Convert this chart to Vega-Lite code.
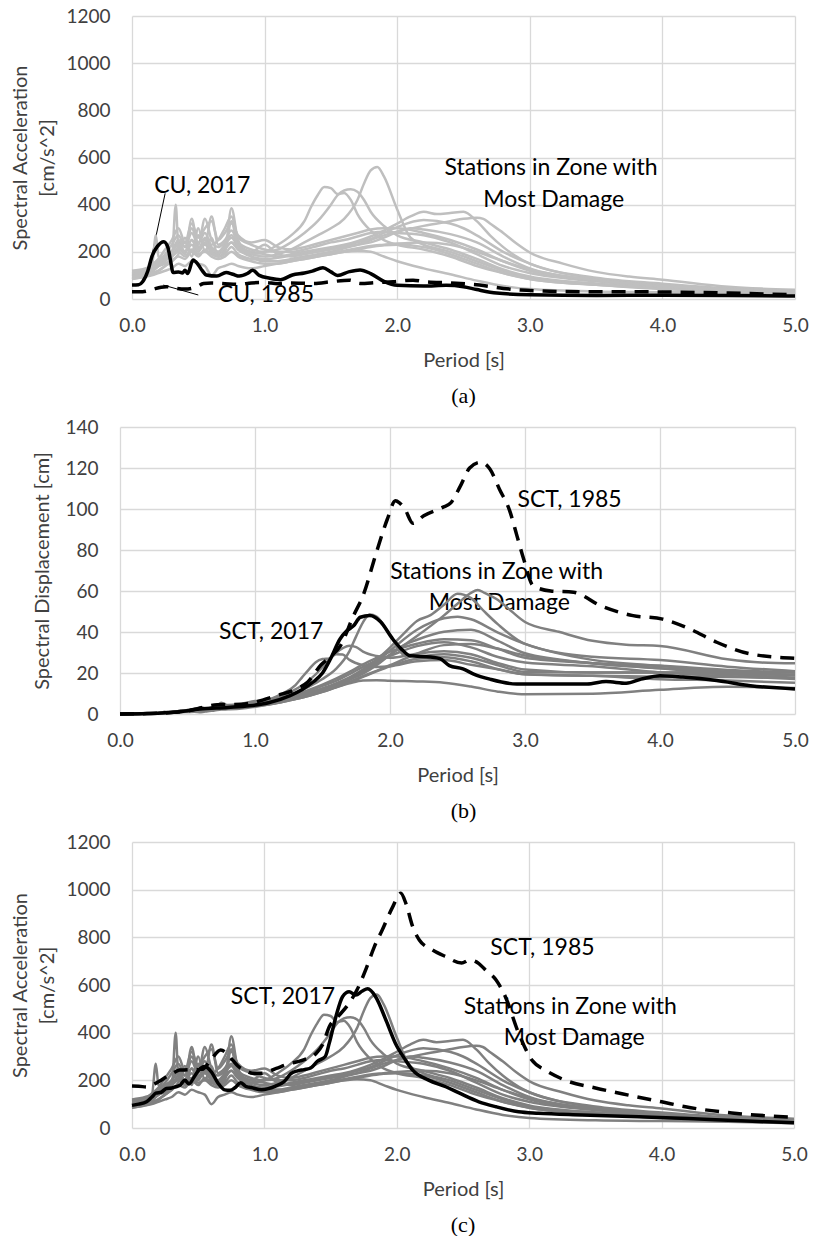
{
"$schema": "https://vega.github.io/schema/vega-lite/v6.json",
"background": "white",
"padding": {"left": 10, "top": 7, "right": 0, "bottom": 0},
"bounds": "flush",
"spacing": 128,
"datasets": {
"st": [
{"s":"A","T":0,"a":110,"d":0},{"s":"A","T":0.1,"a":120,"d":0.03},{"s":"A","T":0.15,"a":140,"d":0.08},{"s":"A","T":0.2,"a":160,"d":0.16},{"s":"A","T":0.25,"a":180,"d":0.28},{"s":"A","T":0.3,"a":200,"d":0.46},{"s":"A","T":0.35,"a":240,"d":0.74},{"s":"A","T":0.4,"a":200,"d":0.81},{"s":"A","T":0.45,"a":250,"d":1.28},{"s":"A","T":0.5,"a":210,"d":1.33},{"s":"A","T":0.55,"a":260,"d":1.99},{"s":"A","T":0.6,"a":220,"d":2.0},{"s":"A","T":0.65,"a":200,"d":2.14},{"s":"A","T":0.7,"a":230,"d":2.85},{"s":"A","T":0.75,"a":260,"d":3.7},{"s":"A","T":0.8,"a":220,"d":3.56},{"s":"A","T":0.9,"a":190,"d":3.9},{"s":"A","T":1.0,"a":180,"d":4.56},{"s":"A","T":1.1,"a":190,"d":5.8},{"s":"A","T":1.2,"a":210,"d":7.7},{"s":"A","T":1.3,"a":240,"d":10.3},{"s":"A","T":1.4,"a":270,"d":13.4},{"s":"A","T":1.5,"a":300,"d":17.1},{"s":"A","T":1.6,"a":340,"d":22},{"s":"A","T":1.7,"a":420,"d":30.7},{"s":"A","T":1.75,"a":490,"d":38},{"s":"A","T":1.8,"a":545,"d":44.7},{"s":"A","T":1.85,"a":560,"d":48.5},{"s":"A","T":1.9,"a":520,"d":47.5},{"s":"A","T":2.0,"a":380,"d":38.5},{"s":"A","T":2.1,"a":260,"d":29},{"s":"A","T":2.2,"a":230,"d":28.2},{"s":"A","T":2.4,"a":200,"d":29.2},{"s":"A","T":2.6,"a":160,"d":27.4},{"s":"A","T":2.8,"a":120,"d":23.8},{"s":"A","T":3.0,"a":90,"d":20.5},{"s":"A","T":3.5,"a":65,"d":20.2},{"s":"A","T":4.0,"a":50,"d":20.3},{"s":"A","T":4.5,"a":38,"d":19.5},{"s":"A","T":5.0,"a":30,"d":19},
{"s":"B","T":0,"a":100,"d":0},{"s":"B","T":0.1,"a":110,"d":0.03},{"s":"B","T":0.15,"a":125,"d":0.07},{"s":"B","T":0.2,"a":150,"d":0.15},{"s":"B","T":0.25,"a":170,"d":0.27},{"s":"B","T":0.3,"a":180,"d":0.41},{"s":"B","T":0.35,"a":220,"d":0.68},{"s":"B","T":0.4,"a":190,"d":0.77},{"s":"B","T":0.45,"a":340,"d":1.74},{"s":"B","T":0.5,"a":220,"d":1.39},{"s":"B","T":0.55,"a":230,"d":1.76},{"s":"B","T":0.6,"a":200,"d":1.82},{"s":"B","T":0.65,"a":190,"d":2.03},{"s":"B","T":0.7,"a":210,"d":2.6},{"s":"B","T":0.75,"a":240,"d":3.42},{"s":"B","T":0.8,"a":210,"d":3.4},{"s":"B","T":0.9,"a":190,"d":3.9},{"s":"B","T":1.0,"a":200,"d":5.07},{"s":"B","T":1.1,"a":230,"d":7.05},{"s":"B","T":1.2,"a":270,"d":9.85},{"s":"B","T":1.3,"a":330,"d":14.1},{"s":"B","T":1.35,"a":390,"d":18},{"s":"B","T":1.4,"a":440,"d":21.8},{"s":"B","T":1.45,"a":475,"d":25.3},{"s":"B","T":1.5,"a":470,"d":26.8},{"s":"B","T":1.55,"a":445,"d":27.1},{"s":"B","T":1.6,"a":450,"d":29.2},{"s":"B","T":1.65,"a":420,"d":29},{"s":"B","T":1.7,"a":360,"d":26.4},{"s":"B","T":1.8,"a":290,"d":23.8},{"s":"B","T":1.9,"a":250,"d":22.9},{"s":"B","T":2.0,"a":230,"d":23.3},{"s":"B","T":2.2,"a":210,"d":25.7},{"s":"B","T":2.4,"a":180,"d":26.3},{"s":"B","T":2.6,"a":140,"d":24},{"s":"B","T":2.8,"a":110,"d":21.8},{"s":"B","T":3.0,"a":85,"d":19.4},{"s":"B","T":3.5,"a":60,"d":18.6},{"s":"B","T":4.0,"a":45,"d":18.2},{"s":"B","T":4.5,"a":35,"d":18},{"s":"B","T":5.0,"a":28,"d":17.7},
{"s":"C","T":0,"a":95,"d":0},{"s":"C","T":0.1,"a":105,"d":0.03},{"s":"C","T":0.15,"a":115,"d":0.07},{"s":"C","T":0.2,"a":140,"d":0.14},{"s":"C","T":0.25,"a":160,"d":0.25},{"s":"C","T":0.3,"a":190,"d":0.43},{"s":"C","T":0.35,"a":210,"d":0.65},{"s":"C","T":0.4,"a":240,"d":0.97},{"s":"C","T":0.45,"a":200,"d":1.03},{"s":"C","T":0.5,"a":270,"d":1.71},{"s":"C","T":0.55,"a":230,"d":1.76},{"s":"C","T":0.6,"a":350,"d":3.19},{"s":"C","T":0.65,"a":230,"d":2.46},{"s":"C","T":0.7,"a":250,"d":3.1},{"s":"C","T":0.75,"a":290,"d":4.13},{"s":"C","T":0.8,"a":240,"d":3.89},{"s":"C","T":0.9,"a":210,"d":4.3},{"s":"C","T":1.0,"a":200,"d":5.07},{"s":"C","T":1.1,"a":210,"d":6.4},{"s":"C","T":1.2,"a":240,"d":8.75},{"s":"C","T":1.3,"a":280,"d":12},{"s":"C","T":1.4,"a":330,"d":16.4},{"s":"C","T":1.5,"a":400,"d":22.8},{"s":"C","T":1.55,"a":440,"d":26.8},{"s":"C","T":1.6,"a":460,"d":29.8},{"s":"C","T":1.65,"a":465,"d":32.1},{"s":"C","T":1.7,"a":455,"d":33.3},{"s":"C","T":1.75,"a":420,"d":32.6},{"s":"C","T":1.8,"a":370,"d":30.4},{"s":"C","T":1.9,"a":310,"d":28.3},{"s":"C","T":2.0,"a":270,"d":27.4},{"s":"C","T":2.2,"a":240,"d":29.4},{"s":"C","T":2.4,"a":210,"d":30.6},{"s":"C","T":2.6,"a":170,"d":29.1},{"s":"C","T":2.8,"a":125,"d":24.8},{"s":"C","T":3.0,"a":95,"d":21.7},{"s":"C","T":3.5,"a":65,"d":20.2},{"s":"C","T":4.0,"a":50,"d":20.3},{"s":"C","T":4.5,"a":40,"d":20.5},{"s":"C","T":5.0,"a":32,"d":20.3},
{"s":"D","T":0,"a":90,"d":0},{"s":"D","T":0.1,"a":100,"d":0.03},{"s":"D","T":0.15,"a":110,"d":0.06},{"s":"D","T":0.2,"a":120,"d":0.12},{"s":"D","T":0.25,"a":140,"d":0.22},{"s":"D","T":0.3,"a":160,"d":0.36},{"s":"D","T":0.35,"a":180,"d":0.56},{"s":"D","T":0.4,"a":170,"d":0.69},{"s":"D","T":0.45,"a":200,"d":1.03},{"s":"D","T":0.5,"a":180,"d":1.14},{"s":"D","T":0.55,"a":210,"d":1.61},{"s":"D","T":0.6,"a":190,"d":1.73},{"s":"D","T":0.65,"a":180,"d":1.93},{"s":"D","T":0.7,"a":200,"d":2.48},{"s":"D","T":0.75,"a":385,"d":5.49},{"s":"D","T":0.8,"a":250,"d":4.05},{"s":"D","T":0.9,"a":180,"d":3.69},{"s":"D","T":1.0,"a":160,"d":4.05},{"s":"D","T":1.1,"a":160,"d":4.9},{"s":"D","T":1.2,"a":170,"d":6.2},{"s":"D","T":1.3,"a":180,"d":7.7},{"s":"D","T":1.4,"a":190,"d":9.4},{"s":"D","T":1.5,"a":200,"d":11.4},{"s":"D","T":1.6,"a":215,"d":13.9},{"s":"D","T":1.7,"a":230,"d":16.8},{"s":"D","T":1.8,"a":250,"d":20.5},{"s":"D","T":1.9,"a":270,"d":24.7},{"s":"D","T":2.0,"a":285,"d":28.9},{"s":"D","T":2.2,"a":310,"d":38},{"s":"D","T":2.4,"a":330,"d":48.1},{"s":"D","T":2.5,"a":340,"d":53.8},{"s":"D","T":2.6,"a":345,"d":59.1},{"s":"D","T":2.65,"a":340,"d":60.5},{"s":"D","T":2.7,"a":320,"d":59.1},{"s":"D","T":2.8,"a":280,"d":55.6},{"s":"D","T":2.9,"a":235,"d":50.1},{"s":"D","T":3.0,"a":197,"d":44.9},{"s":"D","T":3.25,"a":150,"d":40.1},{"s":"D","T":3.5,"a":115,"d":35.7},{"s":"D","T":3.75,"a":95,"d":33.8},{"s":"D","T":4.0,"a":82,"d":33.2},{"s":"D","T":4.5,"a":52,"d":26.7},{"s":"D","T":4.75,"a":44,"d":25.1},{"s":"D","T":5.0,"a":39,"d":24.7},
{"s":"E","T":0,"a":120,"d":0},{"s":"E","T":0.1,"a":130,"d":0.03},{"s":"E","T":0.15,"a":140,"d":0.08},{"s":"E","T":0.18,"a":270,"d":0.22},{"s":"E","T":0.2,"a":180,"d":0.18},{"s":"E","T":0.25,"a":170,"d":0.27},{"s":"E","T":0.3,"a":200,"d":0.46},{"s":"E","T":0.35,"a":250,"d":0.78},{"s":"E","T":0.4,"a":220,"d":0.89},{"s":"E","T":0.45,"a":280,"d":1.44},{"s":"E","T":0.5,"a":230,"d":1.46},{"s":"E","T":0.55,"a":340,"d":2.6},{"s":"E","T":0.6,"a":250,"d":2.28},{"s":"E","T":0.65,"a":220,"d":2.35},{"s":"E","T":0.7,"a":240,"d":2.98},{"s":"E","T":0.75,"a":270,"d":3.85},{"s":"E","T":0.8,"a":230,"d":3.73},{"s":"E","T":0.9,"a":200,"d":4.1},{"s":"E","T":1.0,"a":190,"d":4.81},{"s":"E","T":1.1,"a":180,"d":5.5},{"s":"E","T":1.2,"a":190,"d":6.9},{"s":"E","T":1.3,"a":200,"d":8.6},{"s":"E","T":1.4,"a":210,"d":10.4},{"s":"E","T":1.5,"a":220,"d":12.5},{"s":"E","T":1.6,"a":230,"d":14.9},{"s":"E","T":1.7,"a":245,"d":17.9},{"s":"E","T":1.8,"a":265,"d":21.8},{"s":"E","T":1.9,"a":290,"d":26.5},{"s":"E","T":2.0,"a":320,"d":32.4},{"s":"E","T":2.1,"a":350,"d":39.1},{"s":"E","T":2.2,"a":370,"d":45.4},{"s":"E","T":2.3,"a":360,"d":48.2},{"s":"E","T":2.4,"a":365,"d":53.3},{"s":"E","T":2.5,"a":370,"d":58.6},{"s":"E","T":2.6,"a":330,"d":56.5},{"s":"E","T":2.7,"a":270,"d":49.9},{"s":"E","T":2.8,"a":220,"d":43.7},{"s":"E","T":3.0,"a":150,"d":34.2},{"s":"E","T":3.5,"a":90,"d":27.9},{"s":"E","T":4.0,"a":65,"d":26.3},{"s":"E","T":4.5,"a":45,"d":23.1},{"s":"E","T":5.0,"a":33,"d":20.9},
{"s":"F","T":0,"a":105,"d":0},{"s":"F","T":0.1,"a":115,"d":0.03},{"s":"F","T":0.15,"a":125,"d":0.07},{"s":"F","T":0.2,"a":140,"d":0.14},{"s":"F","T":0.25,"a":150,"d":0.24},{"s":"F","T":0.3,"a":170,"d":0.39},{"s":"F","T":0.33,"a":400,"d":1.1},{"s":"F","T":0.35,"a":220,"d":0.68},{"s":"F","T":0.4,"a":200,"d":0.81},{"s":"F","T":0.45,"a":230,"d":1.18},{"s":"F","T":0.5,"a":200,"d":1.27},{"s":"F","T":0.55,"a":240,"d":1.84},{"s":"F","T":0.6,"a":210,"d":1.92},{"s":"F","T":0.65,"a":200,"d":2.14},{"s":"F","T":0.7,"a":220,"d":2.73},{"s":"F","T":0.75,"a":240,"d":3.42},{"s":"F","T":0.8,"a":210,"d":3.4},{"s":"F","T":0.9,"a":180,"d":3.69},{"s":"F","T":1.0,"a":170,"d":4.31},{"s":"F","T":1.1,"a":175,"d":5.4},{"s":"F","T":1.2,"a":185,"d":6.7},{"s":"F","T":1.3,"a":195,"d":8.3},{"s":"F","T":1.4,"a":205,"d":10.2},{"s":"F","T":1.5,"a":215,"d":12.3},{"s":"F","T":1.6,"a":225,"d":14.6},{"s":"F","T":1.7,"a":240,"d":17.6},{"s":"F","T":1.8,"a":255,"d":20.9},{"s":"F","T":1.9,"a":280,"d":25.6},{"s":"F","T":2.0,"a":305,"d":30.9},{"s":"F","T":2.2,"a":335,"d":41.1},{"s":"F","T":2.4,"a":320,"d":46.7},{"s":"F","T":2.5,"a":300,"d":47.5},{"s":"F","T":2.6,"a":270,"d":46.2},{"s":"F","T":2.8,"a":200,"d":39.7},{"s":"F","T":3.0,"a":150,"d":34.2},{"s":"F","T":3.5,"a":85,"d":26.4},{"s":"F","T":4.0,"a":58,"d":23.5},{"s":"F","T":4.5,"a":40,"d":20.5},{"s":"F","T":5.0,"a":30,"d":19},
{"s":"G","T":0,"a":85,"d":0},{"s":"G","T":0.1,"a":95,"d":0.02},{"s":"G","T":0.15,"a":105,"d":0.06},{"s":"G","T":0.2,"a":120,"d":0.12},{"s":"G","T":0.25,"a":140,"d":0.22},{"s":"G","T":0.3,"a":160,"d":0.36},{"s":"G","T":0.35,"a":190,"d":0.59},{"s":"G","T":0.4,"a":260,"d":1.05},{"s":"G","T":0.45,"a":180,"d":0.92},{"s":"G","T":0.5,"a":300,"d":1.9},{"s":"G","T":0.55,"a":200,"d":1.53},{"s":"G","T":0.6,"a":260,"d":2.37},{"s":"G","T":0.65,"a":180,"d":1.93},{"s":"G","T":0.7,"a":200,"d":2.48},{"s":"G","T":0.75,"a":330,"d":4.7},{"s":"G","T":0.8,"a":220,"d":3.56},{"s":"G","T":0.9,"a":200,"d":4.1},{"s":"G","T":1.0,"a":230,"d":5.83},{"s":"G","T":1.1,"a":190,"d":5.82},{"s":"G","T":1.2,"a":180,"d":6.6},{"s":"G","T":1.3,"a":190,"d":8.1},{"s":"G","T":1.4,"a":200,"d":9.9},{"s":"G","T":1.5,"a":210,"d":12},{"s":"G","T":1.6,"a":220,"d":14.3},{"s":"G","T":1.7,"a":230,"d":16.8},{"s":"G","T":1.8,"a":240,"d":19.7},{"s":"G","T":1.9,"a":260,"d":23.8},{"s":"G","T":2.0,"a":285,"d":28.9},{"s":"G","T":2.1,"a":300,"d":33.5},{"s":"G","T":2.2,"a":295,"d":36.2},{"s":"G","T":2.4,"a":275,"d":40.1},{"s":"G","T":2.6,"a":240,"d":41.1},{"s":"G","T":2.8,"a":180,"d":35.7},{"s":"G","T":3.0,"a":130,"d":29.6},{"s":"G","T":3.5,"a":80,"d":24.8},{"s":"G","T":4.0,"a":55,"d":22.3},{"s":"G","T":4.5,"a":38,"d":19.5},{"s":"G","T":5.0,"a":28,"d":17.7},
{"s":"H","T":0,"a":100,"d":0},{"s":"H","T":0.1,"a":110,"d":0.03},{"s":"H","T":0.15,"a":130,"d":0.07},{"s":"H","T":0.2,"a":160,"d":0.16},{"s":"H","T":0.25,"a":190,"d":0.3},{"s":"H","T":0.3,"a":230,"d":0.52},{"s":"H","T":0.35,"a":270,"d":0.84},{"s":"H","T":0.4,"a":220,"d":0.89},{"s":"H","T":0.45,"a":300,"d":1.54},{"s":"H","T":0.5,"a":240,"d":1.52},{"s":"H","T":0.55,"a":280,"d":2.14},{"s":"H","T":0.6,"a":230,"d":2.1},{"s":"H","T":0.65,"a":250,"d":2.68},{"s":"H","T":0.7,"a":300,"d":3.72},{"s":"H","T":0.75,"a":350,"d":4.99},{"s":"H","T":0.8,"a":260,"d":4.21},{"s":"H","T":0.9,"a":230,"d":4.72},{"s":"H","T":1.0,"a":210,"d":5.32},{"s":"H","T":1.1,"a":200,"d":6.1},{"s":"H","T":1.2,"a":200,"d":7.3},{"s":"H","T":1.3,"a":210,"d":9},{"s":"H","T":1.4,"a":225,"d":11.2},{"s":"H","T":1.5,"a":240,"d":13.7},{"s":"H","T":1.6,"a":250,"d":16.2},{"s":"H","T":1.7,"a":265,"d":19.4},{"s":"H","T":1.8,"a":280,"d":23},{"s":"H","T":1.9,"a":285,"d":26},{"s":"H","T":2.0,"a":280,"d":28.4},{"s":"H","T":2.2,"a":270,"d":33.1},{"s":"H","T":2.4,"a":240,"d":35},{"s":"H","T":2.6,"a":190,"d":32.5},{"s":"H","T":2.8,"a":140,"d":27.8},{"s":"H","T":3.0,"a":110,"d":25.1},{"s":"H","T":3.5,"a":75,"d":23.3},{"s":"H","T":4.0,"a":50,"d":20.3},{"s":"H","T":4.5,"a":36,"d":18.5},{"s":"H","T":5.0,"a":27,"d":17.1},
{"s":"I","T":0,"a":110,"d":0},{"s":"I","T":0.1,"a":120,"d":0.03},{"s":"I","T":0.15,"a":135,"d":0.08},{"s":"I","T":0.2,"a":150,"d":0.15},{"s":"I","T":0.25,"a":170,"d":0.27},{"s":"I","T":0.3,"a":180,"d":0.41},{"s":"I","T":0.35,"a":200,"d":0.62},{"s":"I","T":0.4,"a":180,"d":0.73},{"s":"I","T":0.45,"a":210,"d":1.08},{"s":"I","T":0.5,"a":190,"d":1.2},{"s":"I","T":0.55,"a":200,"d":1.53},{"s":"I","T":0.6,"a":180,"d":1.64},{"s":"I","T":0.65,"a":170,"d":1.82},{"s":"I","T":0.7,"a":180,"d":2.23},{"s":"I","T":0.75,"a":200,"d":2.85},{"s":"I","T":0.8,"a":180,"d":2.92},{"s":"I","T":0.9,"a":160,"d":3.28},{"s":"I","T":1.0,"a":150,"d":3.8},{"s":"I","T":1.1,"a":150,"d":4.6},{"s":"I","T":1.2,"a":160,"d":5.8},{"s":"I","T":1.3,"a":170,"d":7.3},{"s":"I","T":1.4,"a":180,"d":8.9},{"s":"I","T":1.5,"a":190,"d":10.8},{"s":"I","T":1.6,"a":200,"d":13},{"s":"I","T":1.7,"a":210,"d":15.4},{"s":"I","T":1.8,"a":220,"d":18.1},{"s":"I","T":1.9,"a":228,"d":20.8},{"s":"I","T":2.0,"a":230,"d":23.3},{"s":"I","T":2.2,"a":220,"d":27},{"s":"I","T":2.4,"a":190,"d":27.7},{"s":"I","T":2.6,"a":150,"d":25.7},{"s":"I","T":2.8,"a":110,"d":21.8},{"s":"I","T":3.0,"a":85,"d":19.4},{"s":"I","T":3.5,"a":60,"d":18.6},{"s":"I","T":4.0,"a":42,"d":17},{"s":"I","T":4.5,"a":32,"d":16.4},{"s":"I","T":5.0,"a":24,"d":15.2},
{"s":"J","T":0,"a":85,"d":0},{"s":"J","T":0.1,"a":95,"d":0.02},{"s":"J","T":0.15,"a":100,"d":0.06},{"s":"J","T":0.2,"a":110,"d":0.11},{"s":"J","T":0.25,"a":120,"d":0.19},{"s":"J","T":0.3,"a":130,"d":0.3},{"s":"J","T":0.35,"a":150,"d":0.47},{"s":"J","T":0.4,"a":140,"d":0.57},{"s":"J","T":0.45,"a":160,"d":0.82},{"s":"J","T":0.5,"a":150,"d":0.95},{"s":"J","T":0.55,"a":140,"d":1.07},{"s":"J","T":0.6,"a":100,"d":0.91},{"s":"J","T":0.65,"a":130,"d":1.39},{"s":"J","T":0.7,"a":140,"d":1.74},{"s":"J","T":0.75,"a":150,"d":2.14},{"s":"J","T":0.8,"a":140,"d":2.27},{"s":"J","T":0.9,"a":130,"d":2.67},{"s":"J","T":1.0,"a":140,"d":3.55},{"s":"J","T":1.1,"a":150,"d":4.6},{"s":"J","T":1.2,"a":160,"d":5.8},{"s":"J","T":1.3,"a":170,"d":7.3},{"s":"J","T":1.4,"a":180,"d":8.9},{"s":"J","T":1.5,"a":190,"d":10.8},{"s":"J","T":1.6,"a":200,"d":13},{"s":"J","T":1.7,"a":205,"d":15},{"s":"J","T":1.8,"a":200,"d":16.4},{"s":"J","T":1.9,"a":180,"d":16.5},{"s":"J","T":2.0,"a":160,"d":16.2},{"s":"J","T":2.2,"a":130,"d":15.9},{"s":"J","T":2.4,"a":105,"d":15.3},{"s":"J","T":2.6,"a":78,"d":13.4},{"s":"J","T":2.8,"a":55,"d":10.9},{"s":"J","T":3.0,"a":42,"d":9.6},{"s":"J","T":3.5,"a":32,"d":9.9},{"s":"J","T":4.0,"a":29,"d":11.8},{"s":"J","T":4.5,"a":26,"d":13.3},{"s":"J","T":5.0,"a":20,"d":12.7},
{"s":"K","T":0,"a":115,"d":0},{"s":"K","T":0.1,"a":125,"d":0.03},{"s":"K","T":0.15,"a":145,"d":0.08},{"s":"K","T":0.2,"a":170,"d":0.17},{"s":"K","T":0.25,"a":210,"d":0.33},{"s":"K","T":0.3,"a":250,"d":0.57},{"s":"K","T":0.35,"a":300,"d":0.93},{"s":"K","T":0.4,"a":240,"d":0.97},{"s":"K","T":0.45,"a":320,"d":1.64},{"s":"K","T":0.5,"a":260,"d":1.65},{"s":"K","T":0.55,"a":300,"d":2.3},{"s":"K","T":0.6,"a":330,"d":3.01},{"s":"K","T":0.65,"a":250,"d":2.68},{"s":"K","T":0.7,"a":280,"d":3.47},{"s":"K","T":0.75,"a":320,"d":4.56},{"s":"K","T":0.8,"a":270,"d":4.37},{"s":"K","T":0.9,"a":240,"d":4.92},{"s":"K","T":1.0,"a":250,"d":6.33},{"s":"K","T":1.1,"a":220,"d":6.7},{"s":"K","T":1.2,"a":210,"d":7.7},{"s":"K","T":1.3,"a":220,"d":9.4},{"s":"K","T":1.4,"a":235,"d":11.7},{"s":"K","T":1.5,"a":250,"d":14.3},{"s":"K","T":1.6,"a":265,"d":17.2},{"s":"K","T":1.7,"a":280,"d":20.5},{"s":"K","T":1.8,"a":295,"d":24.2},{"s":"K","T":1.9,"a":300,"d":27.4},{"s":"K","T":2.0,"a":300,"d":30.4},{"s":"K","T":2.2,"a":280,"d":34.3},{"s":"K","T":2.4,"a":250,"d":36.5},{"s":"K","T":2.6,"a":210,"d":36},{"s":"K","T":2.8,"a":160,"d":31.8},{"s":"K","T":3.0,"a":120,"d":27.4},{"s":"K","T":3.5,"a":80,"d":24.8},{"s":"K","T":4.0,"a":58,"d":23.5},{"s":"K","T":4.5,"a":42,"d":21.5},{"s":"K","T":5.0,"a":32,"d":20.3},
{"s":"L","T":0,"a":95,"d":0},{"s":"L","T":0.1,"a":105,"d":0.03},{"s":"L","T":0.15,"a":120,"d":0.07},{"s":"L","T":0.2,"a":140,"d":0.14},{"s":"L","T":0.25,"a":160,"d":0.25},{"s":"L","T":0.3,"a":200,"d":0.46},{"s":"L","T":0.35,"a":230,"d":0.71},{"s":"L","T":0.4,"a":200,"d":0.81},{"s":"L","T":0.45,"a":250,"d":1.28},{"s":"L","T":0.5,"a":210,"d":1.33},{"s":"L","T":0.55,"a":250,"d":1.92},{"s":"L","T":0.6,"a":200,"d":1.82},{"s":"L","T":0.65,"a":180,"d":1.93},{"s":"L","T":0.7,"a":190,"d":2.36},{"s":"L","T":0.75,"a":220,"d":3.14},{"s":"L","T":0.8,"a":190,"d":3.08},{"s":"L","T":0.9,"a":170,"d":3.49},{"s":"L","T":1.0,"a":165,"d":4.18},{"s":"L","T":1.1,"a":160,"d":4.9},{"s":"L","T":1.2,"a":165,"d":6},{"s":"L","T":1.3,"a":175,"d":7.5},{"s":"L","T":1.4,"a":185,"d":9.2},{"s":"L","T":1.5,"a":195,"d":11.1},{"s":"L","T":1.6,"a":205,"d":13.3},{"s":"L","T":1.7,"a":215,"d":15.7},{"s":"L","T":1.8,"a":225,"d":18.5},{"s":"L","T":1.9,"a":230,"d":21},{"s":"L","T":2.0,"a":235,"d":23.8},{"s":"L","T":2.2,"a":240,"d":29.4},{"s":"L","T":2.4,"a":230,"d":33.6},{"s":"L","T":2.6,"a":200,"d":34.2},{"s":"L","T":2.8,"a":160,"d":31.8},{"s":"L","T":3.0,"a":125,"d":28.5},{"s":"L","T":3.5,"a":80,"d":24.8},{"s":"L","T":4.0,"a":55,"d":22.3},{"s":"L","T":4.5,"a":40,"d":20.5},{"s":"L","T":5.0,"a":30,"d":19}
],
"a17": [{"T":0,"v":59},{"T":0.05,"v":60},{"T":0.08,"v":73},{"T":0.12,"v":120},{"T":0.15,"v":180},{"T":0.19,"v":222},{"T":0.24,"v":243},{"T":0.27,"v":220},{"T":0.29,"v":165},{"T":0.31,"v":112},{"T":0.35,"v":115},{"T":0.38,"v":110},{"T":0.4,"v":122},{"T":0.42,"v":108},{"T":0.46,"v":165},{"T":0.5,"v":145},{"T":0.53,"v":120},{"T":0.56,"v":102},{"T":0.64,"v":97},{"T":0.71,"v":112},{"T":0.76,"v":105},{"T":0.81,"v":97},{"T":0.87,"v":108},{"T":0.91,"v":122},{"T":0.96,"v":100},{"T":1.04,"v":88},{"T":1.12,"v":82},{"T":1.21,"v":102},{"T":1.3,"v":110},{"T":1.36,"v":118},{"T":1.44,"v":132},{"T":1.5,"v":115},{"T":1.55,"v":100},{"T":1.64,"v":116},{"T":1.72,"v":123},{"T":1.8,"v":108},{"T":1.9,"v":75},{"T":2.0,"v":58},{"T":2.2,"v":55},{"T":2.37,"v":58},{"T":2.5,"v":52},{"T":2.6,"v":40},{"T":2.75,"v":25},{"T":3.0,"v":18},{"T":3.5,"v":15},{"T":4.0,"v":16},{"T":4.5,"v":15},{"T":5.0,"v":13}],
"a85": [{"T":0,"v":31},{"T":0.08,"v":31},{"T":0.15,"v":40},{"T":0.22,"v":50},{"T":0.26,"v":52},{"T":0.33,"v":45},{"T":0.4,"v":42},{"T":0.49,"v":52},{"T":0.54,"v":66},{"T":0.6,"v":68},{"T":0.7,"v":65},{"T":0.8,"v":62},{"T":0.9,"v":68},{"T":1.0,"v":70},{"T":1.1,"v":65},{"T":1.2,"v":68},{"T":1.37,"v":66},{"T":1.5,"v":73},{"T":1.64,"v":80},{"T":1.72,"v":66},{"T":1.85,"v":70},{"T":1.97,"v":73},{"T":2.12,"v":80},{"T":2.2,"v":74},{"T":2.4,"v":68},{"T":2.62,"v":59},{"T":2.8,"v":45},{"T":2.93,"v":38},{"T":3.1,"v":34},{"T":3.38,"v":31},{"T":3.7,"v":31},{"T":4.0,"v":30},{"T":4.5,"v":25},{"T":5.0,"v":18}],
"b17": [{"T":0,"v":0},{"T":0.2,"v":0.2},{"T":0.4,"v":0.8},{"T":0.59,"v":2.4},{"T":0.8,"v":3.2},{"T":0.96,"v":4},{"T":1.1,"v":5.5},{"T":1.26,"v":9},{"T":1.35,"v":12},{"T":1.43,"v":15.6},{"T":1.5,"v":20},{"T":1.56,"v":27},{"T":1.63,"v":36.6},{"T":1.68,"v":40.6},{"T":1.73,"v":43},{"T":1.78,"v":47.2},{"T":1.85,"v":48},{"T":1.93,"v":45},{"T":2.02,"v":36.6},{"T":2.08,"v":32},{"T":2.15,"v":28.4},{"T":2.3,"v":27.8},{"T":2.37,"v":27},{"T":2.44,"v":23.6},{"T":2.54,"v":22},{"T":2.62,"v":19.5},{"T":2.74,"v":17},{"T":2.94,"v":14.6},{"T":3.2,"v":14.6},{"T":3.46,"v":14.6},{"T":3.6,"v":15.8},{"T":3.75,"v":15},{"T":3.86,"v":17},{"T":4.0,"v":18.7},{"T":4.17,"v":18},{"T":4.42,"v":16.3},{"T":4.67,"v":13.8},{"T":5.0,"v":12.2}],
"b85": [{"T":0,"v":0},{"T":0.3,"v":0.4},{"T":0.5,"v":1.5},{"T":0.72,"v":4.5},{"T":0.9,"v":4.7},{"T":1.0,"v":5.8},{"T":1.16,"v":9},{"T":1.3,"v":12},{"T":1.39,"v":15.5},{"T":1.49,"v":24},{"T":1.56,"v":28},{"T":1.63,"v":33},{"T":1.73,"v":48},{"T":1.8,"v":57.7},{"T":1.9,"v":79},{"T":1.98,"v":95},{"T":2.04,"v":104},{"T":2.07,"v":103},{"T":2.11,"v":100},{"T":2.17,"v":93},{"T":2.25,"v":96.7},{"T":2.39,"v":100.8},{"T":2.45,"v":103},{"T":2.52,"v":111},{"T":2.59,"v":120},{"T":2.67,"v":122.8},{"T":2.74,"v":119.5},{"T":2.81,"v":109.8},{"T":2.89,"v":98.5},{"T":2.94,"v":87},{"T":2.99,"v":75.6},{"T":3.06,"v":62.6},{"T":3.19,"v":60},{"T":3.36,"v":59.4},{"T":3.56,"v":52.8},{"T":3.8,"v":48},{"T":4.02,"v":46.3},{"T":4.22,"v":41.5},{"T":4.42,"v":35},{"T":4.67,"v":29.3},{"T":5.0,"v":27.2}],
"c17": [{"T":0,"v":95},{"T":0.05,"v":100},{"T":0.11,"v":110},{"T":0.15,"v":130},{"T":0.18,"v":146},{"T":0.22,"v":150},{"T":0.26,"v":166},{"T":0.3,"v":168},{"T":0.33,"v":173},{"T":0.36,"v":178},{"T":0.4,"v":200},{"T":0.43,"v":185},{"T":0.47,"v":215},{"T":0.5,"v":240},{"T":0.55,"v":258},{"T":0.6,"v":235},{"T":0.65,"v":188},{"T":0.7,"v":160},{"T":0.74,"v":158},{"T":0.78,"v":170},{"T":0.82,"v":190},{"T":0.86,"v":175},{"T":0.9,"v":170},{"T":0.98,"v":160},{"T":1.03,"v":165},{"T":1.08,"v":175},{"T":1.15,"v":195},{"T":1.2,"v":228},{"T":1.25,"v":240},{"T":1.3,"v":245},{"T":1.35,"v":252},{"T":1.4,"v":280},{"T":1.46,"v":300},{"T":1.49,"v":356},{"T":1.54,"v":467},{"T":1.59,"v":551},{"T":1.64,"v":572},{"T":1.69,"v":558},{"T":1.74,"v":575},{"T":1.78,"v":584},{"T":1.84,"v":551},{"T":1.92,"v":450},{"T":1.99,"v":355},{"T":2.06,"v":290},{"T":2.12,"v":243},{"T":2.24,"v":201},{"T":2.37,"v":173},{"T":2.47,"v":147},{"T":2.62,"v":110},{"T":2.75,"v":89},{"T":2.92,"v":68},{"T":3.07,"v":62},{"T":3.4,"v":55},{"T":3.83,"v":47},{"T":4.2,"v":40},{"T":4.6,"v":30},{"T":5.0,"v":22}],
"c85": [{"T":0,"v":176},{"T":0.05,"v":175},{"T":0.12,"v":172},{"T":0.17,"v":185},{"T":0.22,"v":200},{"T":0.26,"v":215},{"T":0.31,"v":230},{"T":0.36,"v":243},{"T":0.45,"v":245},{"T":0.53,"v":246},{"T":0.6,"v":290},{"T":0.67,"v":327},{"T":0.72,"v":310},{"T":0.76,"v":285},{"T":0.8,"v":260},{"T":0.86,"v":240},{"T":0.91,"v":230},{"T":0.98,"v":230},{"T":1.09,"v":250},{"T":1.16,"v":265},{"T":1.29,"v":285},{"T":1.39,"v":313},{"T":1.44,"v":350},{"T":1.49,"v":425},{"T":1.56,"v":470},{"T":1.64,"v":524},{"T":1.7,"v":580},{"T":1.77,"v":671},{"T":1.83,"v":760},{"T":1.89,"v":831},{"T":1.97,"v":929},{"T":2.03,"v":985},{"T":2.07,"v":940},{"T":2.12,"v":845},{"T":2.17,"v":789},{"T":2.27,"v":747},{"T":2.37,"v":719},{"T":2.49,"v":692},{"T":2.55,"v":705},{"T":2.62,"v":690},{"T":2.67,"v":663},{"T":2.75,"v":621},{"T":2.82,"v":551},{"T":2.92,"v":398},{"T":3.02,"v":285},{"T":3.12,"v":243},{"T":3.27,"v":201},{"T":3.5,"v":168},{"T":3.75,"v":138},{"T":4.0,"v":110},{"T":4.18,"v":89},{"T":4.53,"v":63},{"T":5.0,"v":45}]
},
"vconcat": [
{
"width": 663, "height": 283,
"title": {"text": "(a)", "orient": "bottom", "offset": 16, "font": "Liberation Serif", "fontSize": 22, "fontWeight": "normal", "color": "#000"},
"encoding": {
 "x": {"field": "T", "type": "quantitative", "scale": {"domain": [0, 5], "nice": false}, "axis": {"values": [0,1,2,3,4,5], "format": ".1f", "title": "Period [s]", "labelPadding": 17, "titlePadding": 15}},
 "y": {"field": "v", "type": "quantitative", "scale": {"domain": [0, 1200], "nice": false}, "axis": {"values": [0,200,400,600,800,1000,1200], "format": "d", "title": ["Spectral Acceleration", "[cm/s^2]"], "titleLineHeight": 27, "labelPadding": 22, "titlePadding": 8}}
},
"layer": [
{"data": {"values": [{"T":0.53,"v":479,"t":"CU, 2017"},{"T":1.01,"v":19,"t":"CU, 1985"},{"T":3.16,"v":555,"t":"Stations in Zone with"},{"T":3.18,"v":420,"t":"Most Damage"}]},
 "mark": {"type": "text", "font": "Lato", "fontSize": 23, "color": "#000"},
 "encoding": {"text": {"field": "t"}}},
{"data": {"values": [{"T":0.25,"v":448,"T2":0.148,"v2":179},{"T":0.236,"v":59,"T2":0.5,"v2":17}]},
 "mark": {"type": "rule", "color": "#000", "strokeWidth": 1},
 "encoding": {"x2": {"field": "T2"}, "y2": {"field": "v2"}}},
{"data": {"name": "st"},
 "mark": {"type": "line", "interpolate": "monotone", "strokeWidth": 2.5, "color": "#bfbfbf"},
 "encoding": {"y": {"field": "a", "type": "quantitative", "scale": {"domain": [0, 1200], "nice": false}, "axis": {"values": [0,200,400,600,800,1000,1200], "format": "d", "title": ["Spectral Acceleration", "[cm/s^2]"], "titleLineHeight": 27, "labelPadding": 22, "titlePadding": 8}}, "detail": {"field": "s"}}},
{"data": {"name": "a85"},
 "mark": {"type": "line", "interpolate": "monotone", "strokeWidth": 3.5, "color": "#000", "strokeDash": [14, 9]},
 "encoding": {}},
{"data": {"name": "a17"},
 "mark": {"type": "line", "interpolate": "monotone", "strokeWidth": 3.5, "color": "#000"},
 "encoding": {}}
]
},
{
"width": 663, "height": 287,
"title": {"text": "(b)", "orient": "bottom", "offset": 16, "font": "Liberation Serif", "fontSize": 22, "fontWeight": "normal", "color": "#000"},
"encoding": {
 "x": {"field": "T", "type": "quantitative", "scale": {"domain": [0, 5], "nice": false, "range": [-12, 663]}, "axis": {"values": [0,1,2,3,4,5], "format": ".1f", "title": "Period [s]", "labelPadding": 17, "titlePadding": 15}},
 "y": {"field": "v", "type": "quantitative", "scale": {"domain": [0, 140], "nice": false}, "axis": {"values": [0,20,40,60,80,100,120,140], "format": "d", "title": "Spectral Displacement [cm]", "labelPadding": 22, "titlePadding": 12, "offset": 12}}
},
"layer": [
{"data": {"values": [{"T":1.12,"v":40,"t":"SCT, 2017"},{"T":3.33,"v":104.4,"t":"SCT, 1985"},{"T":2.79,"v":69.3,"t":"Stations in Zone with"},{"T":2.81,"v":54.1,"t":"Most Damage"}]},
 "mark": {"type": "text", "font": "Lato", "fontSize": 23, "color": "#000"},
 "encoding": {"text": {"field": "t"}}},
{"data": {"name": "st"},
 "mark": {"type": "line", "interpolate": "monotone", "strokeWidth": 2.5, "color": "#808080"},
 "encoding": {"y": {"field": "d", "type": "quantitative", "scale": {"domain": [0, 140], "nice": false}, "axis": {"values": [0,20,40,60,80,100,120,140], "format": "d", "title": "Spectral Displacement [cm]", "labelPadding": 22, "titlePadding": 12, "offset": 12}}, "detail": {"field": "s"}}},
{"data": {"name": "b85"},
 "mark": {"type": "line", "interpolate": "monotone", "strokeWidth": 3.5, "color": "#000", "strokeDash": [14, 9]},
 "encoding": {}},
{"data": {"name": "b17"},
 "mark": {"type": "line", "interpolate": "monotone", "strokeWidth": 3.5, "color": "#000"},
 "encoding": {}}
]
},
{
"width": 662, "height": 286,
"title": {"text": "(c)", "orient": "bottom", "offset": 16, "font": "Liberation Serif", "fontSize": 22, "fontWeight": "normal", "color": "#000"},
"encoding": {
 "x": {"field": "T", "type": "quantitative", "scale": {"domain": [0, 5], "nice": false}, "axis": {"values": [0,1,2,3,4,5], "format": ".1f", "title": "Period [s]", "labelPadding": 17, "titlePadding": 15}},
 "y": {"field": "v", "type": "quantitative", "scale": {"domain": [0, 1200], "nice": false}, "axis": {"values": [0,200,400,600,800,1000,1200], "format": "d", "title": ["Spectral Acceleration", "[cm/s^2]"], "titleLineHeight": 27, "labelPadding": 22, "titlePadding": 8}}
},
"layer": [
{"data": {"values": [{"T":1.14,"v":548,"t":"SCT, 2017"},{"T":3.1,"v":757,"t":"SCT, 1985"},{"T":3.31,"v":509,"t":"Stations in Zone with"},{"T":3.34,"v":378,"t":"Most Damage"}]},
 "mark": {"type": "text", "font": "Lato", "fontSize": 23, "color": "#000"},
 "encoding": {"text": {"field": "t"}}},
{"data": {"name": "st"},
 "mark": {"type": "line", "interpolate": "monotone", "strokeWidth": 2.5, "color": "#808080"},
 "encoding": {"y": {"field": "a", "type": "quantitative", "scale": {"domain": [0, 1200], "nice": false}, "axis": {"values": [0,200,400,600,800,1000,1200], "format": "d", "title": ["Spectral Acceleration", "[cm/s^2]"], "titleLineHeight": 27, "labelPadding": 22, "titlePadding": 8}}, "detail": {"field": "s"}}},
{"data": {"name": "c85"},
 "mark": {"type": "line", "interpolate": "monotone", "strokeWidth": 3.5, "color": "#000", "strokeDash": [14, 9]},
 "encoding": {}},
{"data": {"name": "c17"},
 "mark": {"type": "line", "interpolate": "monotone", "strokeWidth": 3.5, "color": "#000"},
 "encoding": {}}
]
}
],
"config": {
"view": {"stroke": null},
"axis": {"labelFont": "Lato", "labelFontSize": 19, "labelColor": "#404040", "titleFont": "Lato", "titleFontSize": 20, "titleFontWeight": "normal", "titleColor": "#404040", "gridColor": "#d9d9d9", "gridWidth": 1.3, "domain": false, "ticks": false, "labelFlush": false, "labelOverlap": false}
}
}
